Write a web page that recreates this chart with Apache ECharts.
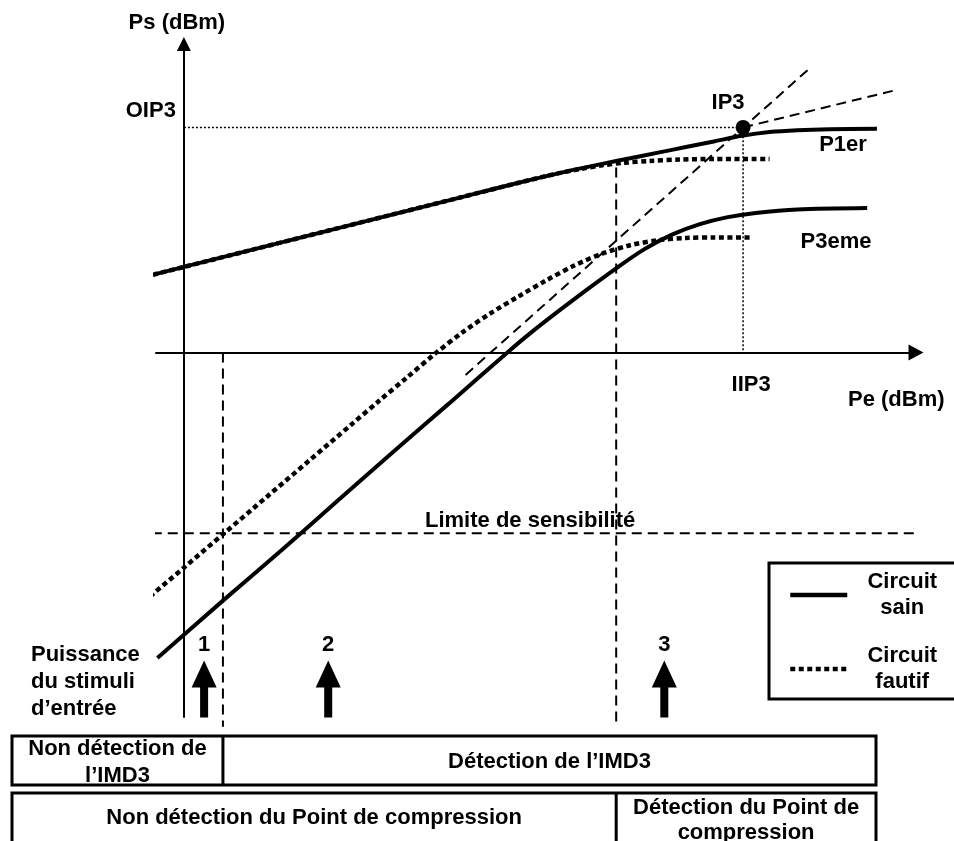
<!DOCTYPE html>
<html>
<head>
<meta charset="utf-8">
<script src="https://cdn.jsdelivr.net/npm/echarts@6/dist/echarts.min.js"></script>
<style>
html,body{margin:0;padding:0;background:#fff;}
#c{width:954px;height:841px;}
</style>
</head>
<body>
<div id="c"></div>
<script>
// ---------- data (schematic values, Pe and Ps in dBm) ----------
const p1Sain = [[-3.4,5.25],[0,6.1],[5,7.35],[10,8.6],[15,9.85],[20,11.1],[24,12.1],[26,12.58],[28,13.04],[30,13.45],[32,13.85],[34,14.25],[36,14.65],[38,15.05],[40,15.45],[42,15.72],[44,15.85],[46.3,15.92],[49.7,15.95]];
const p1Fautif = [[-3.4,5.25],[0,6.1],[5,7.35],[10,8.6],[15,9.85],[20,11.1],[24,12.1],[26.5,12.7],[28.5,13.1],[30,13.35],[31.5,13.52],[33.4,13.66],[35.5,13.76],[38,13.8],[42,13.8]];
const p3Sain = [[-1.9,-21.8],[2.8,-17.7],[7,-14.1],[11,-10.6],[15,-7.1],[19,-3.65],[23.2,0],[25,1.5],[27,3.05],[29,4.55],[31,6.0],[33,7.35],[35,8.4],[37,9.15],[39,9.65],[41,9.95],[44,10.2],[49,10.3]];
const p3Fautif = [[-2.9,-17.8],[0,-15.35],[3,-12.8],[6,-10.25],[9,-7.7],[12,-5.15],[14,-3.45],[16,-1.78],[18,-0.1],[20,1.45],[22,2.8],[24,4.0],[26,5.15],[28,6.2],[30,7.05],[32,7.65],[34,8.0],[36,8.17],[38,8.2],[40.8,8.2]];
const ip3 = [40.1, 16.05];
const asymptoteP3 = [[20.2,-1.6],[44.8,20.2]];
const asymptoteP1 = [[40.1,16.05],[51,18.7]];
const ip3Guide = [[0,16.05],[40.1,16.05],[40.1,0]];
const sensitivity = -12.9;
const sensitivityRange = [-3.45, 52.8];
const imd3Limit = 2.8;
const imd3LimitRange = [0, -26.7];
const compressionLimit = 31;
const compressionLimitRange = [13.2, -26.4];
const stimuliPe = [1.45, 10.35, 34.45];
const stimuliNames = ['1','2','3'];
const stimuliPs = -24;
const ip3Labels = ['OIP3','IIP3','IP3'];
const curveNames = ['P1er','P3eme'];
const legendNames = ['Circuit sain','Circuit fautif'];
const peRange = [-2, 52.5];
const psRange = [-26, 22];

// ---------- styles / layout ----------
const W = 954, H = 841;
const GRID = {left:156, right:38, top:44, bottom:124};
const FONT = '"Liberation Sans", Arial, Helvetica, sans-serif';
const FS = 22;
const solid = {color:'#000', width:4, type:'solid'};
const dotted = {color:'#000', width:4.5, type:[5,3.5], cap:'butt'};
const dashed = {color:'#000', width:2, type:[10,6]};
const fine = {color:'#000', width:1.5, type:[2,2]};
const txtStyle = {color:'#000', fontFamily:FONT, fontSize:FS, fontWeight:'bold'};

// axes cross at Pe=0 / Ps=0 : shift the whole axes (line + labels) there
const gridW = W - GRID.left - GRID.right, gridH = H - GRID.top - GRID.bottom;
const xAxisOffset = -gridH * (0 - psRange[0]) / (psRange[1] - psRange[0]);
const yAxisOffset = -gridW * (0 - peRange[0]) / (peRange[1] - peRange[0]);

function curve(name, data, style, z) {
  return {name, type:'line', data, smooth:0.3, symbol:'none', clip:false,
          lineStyle:style, z, silent:true, animation:false};
}
function seg(name, data, style, z) {
  return {name, type:'line', data, symbol:'none', clip:false, lineStyle:style, z:z||2, silent:true, animation:false};
}

const option = {
  animation:false,
  backgroundColor:'#fff',
  grid:Object.assign({containLabel:false}, GRID),
  xAxis:{
    type:'value', min:peRange[0], max:peRange[1], position:'bottom', offset:xAxisOffset,
    name:'Pe (dBm)', nameLocation:'end', nameGap:-68,
    nameTextStyle:Object.assign({align:'left', verticalAlign:'top', padding:[36,0,0,0], lineHeight:22}, txtStyle),
    axisLine:{show:true, onZero:false, symbol:['none','triangle'], symbolSize:[16,15], lineStyle:{color:'#000', width:2}},
    axisTick:{show:false}, splitLine:{show:false},
    axisLabel:Object.assign({show:true, customValues:[ip3[0]], formatter:()=>ip3Labels[1], margin:21, padding:[0,0,0,16]}, txtStyle)
  },
  yAxis:{
    type:'value', min:psRange[0], max:psRange[1], position:'left', offset:yAxisOffset,
    name:'Ps (dBm)', nameLocation:'end', nameGap:10,
    nameTextStyle:Object.assign({align:'center', verticalAlign:'bottom', padding:[0,14,0,0], lineHeight:22}, txtStyle),
    axisLine:{show:true, onZero:false, symbol:['none','triangle'], symbolSize:[14,14], lineStyle:{color:'#000', width:2}},
    axisTick:{show:false}, splitLine:{show:false},
    axisLabel:Object.assign({show:true, customValues:[ip3[1]], formatter:()=>ip3Labels[0], margin:8, verticalAlign:'bottom', padding:[0,0,5,0], lineHeight:22}, txtStyle)
  },
  legend:{
    data:legendNames, orient:'vertical', left:769, top:563,
    padding:[8,10,6,19], itemGap:26, itemWidth:57, itemHeight:14,
    borderColor:'#000', borderWidth:3, borderRadius:0, backgroundColor:'#fff',
    selectedMode:false,
    itemStyle:{opacity:0},
    lineStyle:{width:4.5},
    formatter:n=>{const p=n.split(' ');return '{a|'+p[0]+'}\n{a|'+p[1]+'}';},
    textStyle:{rich:{a:{width:100, align:'center', lineHeight:26, fontFamily:FONT, fontSize:FS, fontWeight:'bold', color:'#000'}}}
  },
  series:[
    curve(legendNames[0], p1Sain, solid, 5),
    curve(legendNames[1], p1Fautif, dotted, 4),
    curve(legendNames[0], p3Sain, solid, 5),
    curve(legendNames[1], p3Fautif, dotted, 4),
    seg('Asymptote P3', asymptoteP3, dashed),
    seg('Asymptote P1', asymptoteP1, dashed),
    seg('IP3 guide', ip3Guide, fine),
    seg('Limite de sensibilité', sensitivityRange.map(x=>[x, sensitivity]), dashed),
    seg('Limite IMD3', imd3LimitRange.map(y=>[imd3Limit, y]), dashed),
    seg('Limite compression', compressionLimitRange.map(y=>[compressionLimit, y]), dashed),
    {name:'IP3', type:'scatter', data:[ip3], symbol:'circle', symbolSize:15, clip:false, z:6, silent:true,
     itemStyle:{color:'#000', opacity:1},
     label:Object.assign({show:true, position:'top', distance:6, offset:[-15,0], formatter:()=>ip3Labels[2]}, txtStyle)},
    {name:'Stimuli', type:'scatter', data:stimuliPe.map(x=>[x, stimuliPs]), clip:false, z:6, silent:true,
     symbol:'path://M12.5,0 L25,27 L16.5,27 L16.5,57 L8.5,57 L8.5,27 L0,27 Z', symbolSize:[25,57],
     itemStyle:{color:'#000', opacity:1},
     label:Object.assign({show:true, position:'top', distance:5, formatter:p=>stimuliNames[p.dataIndex]}, txtStyle)}
  ]
};

const chart = echarts.init(document.getElementById('c'), null, {renderer:'canvas'});
chart.setOption(option);

const toPx = v => chart.convertToPixel({gridIndex:0}, v);
const xDiv1 = toPx([imd3Limit, 0])[0];
const xDiv2 = toPx([compressionLimit, 0])[0];
const font = 'bold ' + FS + 'px ' + FONT;
function T(text, x, y, align, lh) {
  return {type:'text', x, y, silent:true, z:10,
    style:{text, font, fill:'#000', align:align||'center', textAlign:align||'center',
           verticalAlign:'middle', textVerticalAlign:'middle', lineHeight:lh||27}};
}
function R(x, y, w, h) {
  return {type:'rect', shape:{x, y, width:w, height:h}, silent:true, z:10,
    style:{fill:'none', stroke:'#000', lineWidth:3}};
}
function L(x1, y1, x2, y2) {
  return {type:'line', shape:{x1, y1, x2, y2}, silent:true, z:10, style:{stroke:'#000', lineWidth:3}};
}
const tL = 12, tR = 876;
chart.setOption({graphic:[
  T(curveNames[0], 843, 145),
  T(curveNames[1], 836, 242),
  T('Limite de sensibilité', 425, 521, 'left'),
  T('Puissance\ndu stimuli\nd\u2019entrée', 31, 682, 'left', 27),
  R(tL, 736, tR - tL, 49),
  L(xDiv1, 736, xDiv1, 785),
  T('Non détection de\nl\u2019IMD3', (tL + xDiv1) / 2, 762, 'center', 27),
  T('Détection de l\u2019IMD3', (xDiv1 + tR) / 2, 762),
  R(tL, 793, tR - tL, 70),
  L(xDiv2, 793, xDiv2, 863),
  T('Non détection du Point de compression', (tL + xDiv2) / 2, 818),
  T('Détection du Point de\ncompression', (xDiv2 + tR) / 2, 820, 'center', 25)
]});
</script>
</body>
</html>
